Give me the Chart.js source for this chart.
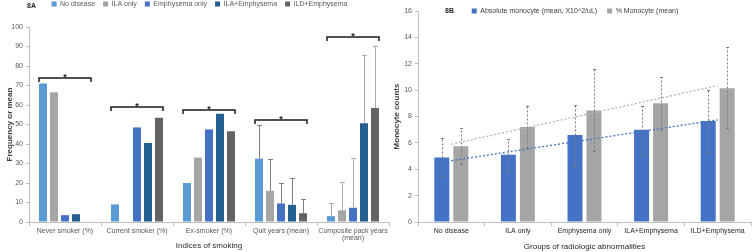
<!DOCTYPE html>
<html>
<head>
<meta charset="utf-8">
<script src="https://cdn.jsdelivr.net/npm/chart.js@4"></script>
<style>
  html, body { margin: 0; padding: 0; background: #fff; }
  body { width: 752px; height: 252px; position: relative; overflow: hidden; }
  canvas { position: absolute; top: 0; }
  #chartA { left: 0; }
  #chartB { left: 392px; }
  .tag { position: absolute; font: bold 7px "Liberation Sans", sans-serif; color: #262626; }
</style>
</head>
<body>
<canvas id="chartA" width="392" height="252"></canvas>
<canvas id="chartB" width="360" height="252"></canvas>
<div class="tag" style="left:27px; top:2px">8A</div>
<div class="tag" style="left:445px; top:7px">8B</div>
<script>
// ---- 8A data ----
const groupsA = ['Never smoker (%)', 'Current smoker (%)', 'Ex-smoker (%)', 'Quit years (mean)', ['Composite pack years', '(mean)']];
const seriesA = ['No disease', 'ILA only', 'Emphysema only', 'ILA+Emphysema', 'ILD+Emphysema'];
const noDisease = [71, 9, 20, 32.5, 3];
const ilaOnly = [66.5, 0, 33, 16, 6];
const emphOnly = [3.5, 48.5, 47.5, 9.5, 7.3];
const ilaEmph = [4, 40.5, 55.5, 8.8, 50.7];
const ildEmph = [0, 53.5, 46.5, 4.5, 58.4];
// upper end of the error bars (means only)
const noDiseaseHi = [null, null, null, 49.7, 9.6];
const ilaOnlyHi = [null, null, null, 32.3, 20.7];
const emphOnlyHi = [null, null, null, 20.2, 32.7];
const ilaEmphHi = [null, null, null, 22.6, 85.5];
const ildEmphHi = [null, null, null, 12, 90.3];
// significance bracket levels
const bracketsA = [74, 59, 57.6, 52.4, 95];

// ---- 8B data ----
const groupsB = ['No disease', 'ILA only', 'Emphysema only', 'ILA+Emphysema', 'ILD+Emphysema'];
const absMono = [4.9, 5.1, 6.6, 7.0, 7.65];
const absMonoLo = [3.4, 3.9, 4.2, 5.1, 5.3];
const absMonoHi = [6.4, 6.3, 8.9, 8.8, 10.0];
const pctMono = [5.75, 7.2, 8.45, 9.0, 10.15];
const pctMonoLo = [4.4, 5.6, 5.4, 7.0, 7.1];
const pctMonoHi = [7.1, 8.8, 11.6, 11.0, 13.3];
const absTrend = [4.65, null, null, null, 7.75];
const pctTrend = [5.9, null, null, null, 10.35];

const FONT = '"Liberation Sans", Arial, sans-serif';
const colorsA = ['#5B9BD5', '#A5A5A5', '#4472C4', '#255E91', '#636363'];
const errColorsA = [null, null, null, '#7f7f7f', '#ababab'];

// legend that takes no layout room, placed by hand
const pinLegend = {
  id: 'pinLegend',
  beforeInit(chart) {
    const lg = chart.legend;
    const fit = lg.fit;
    lg.fit = function () { fit.call(this); this.height = 0; };
  },
  afterLayout(chart, args, opts) {
    const lg = chart.legend;
    const pad = lg.options.labels.padding;
    const size = lg.options.labels.font.size;
    lg.top = opts.y - pad - size / 2;
    lg.bottom = lg.top + pad * 2 + size + 10;
    lg.height = lg.bottom - lg.top;
    lg.left = opts.left;
    lg.right = opts.right;
  }
};

const errUpA = {
  id: 'errUpA',
  afterDatasetsDraw(chart) {
    const { ctx, scales: { y } } = chart;
    ctx.save();
    ctx.lineWidth = 1;
    chart.data.datasets.forEach((ds, i) => {
      const bars = chart.getDatasetMeta(i).data;
      ds.upper.forEach((v, j) => {
        if (v == null) return;
        const b = bars[j];
        const x = Math.round(b.x) + 0.5;
        const top = Math.round(y.getPixelForValue(v)) + 0.5;
        ctx.strokeStyle = errColorsA[j];
        ctx.beginPath();
        ctx.moveTo(x, b.y);
        ctx.lineTo(x, top);
        ctx.moveTo(x - 2.5, top);
        ctx.lineTo(x + 2.5, top);
        ctx.stroke();
      });
    });
    ctx.restore();
  }
};

const sigBrackets = {
  id: 'sigBrackets',
  afterDatasetsDraw(chart) {
    const { ctx, scales: { y } } = chart;
    const first = chart.getDatasetMeta(0).data;
    const last = chart.getDatasetMeta(4).data;
    ctx.save();
    ctx.strokeStyle = '#1a1a1a';
    ctx.fillStyle = '#1a1a1a';
    ctx.lineWidth = 1.5;
    ctx.font = 'bold 9px ' + FONT;
    ctx.textAlign = 'center';
    ctx.textBaseline = 'alphabetic';
    bracketsA.forEach((v, i) => {
      const x0 = first[i].x - first[i].width / 2;
      const x1 = last[i].x + last[i].width / 2;
      const yy = Math.round(y.getPixelForValue(v));
      ctx.beginPath();
      ctx.moveTo(x0, yy + 4);
      ctx.lineTo(x0, yy);
      ctx.lineTo(x1, yy);
      ctx.lineTo(x1, yy + 4);
      ctx.stroke();
      ctx.fillText('*', (x0 + x1) / 2, yy + 1.5);
    });
    ctx.restore();
  }
};

const errRangeB = {
  id: 'errRangeB',
  afterDatasetsDraw(chart) {
    const { ctx, scales: { y } } = chart;
    ctx.save();
    ctx.strokeStyle = '#7a7a7a';
    ctx.lineWidth = 1;
    chart.data.datasets.forEach((ds, i) => {
      if (!ds.lo) return;
      const bars = chart.getDatasetMeta(i).data;
      ds.lo.forEach((lo, j) => {
        const x = Math.round(bars[j].x) + 0.5;
        const yLo = Math.round(y.getPixelForValue(lo)) + 0.5;
        const yHi = Math.round(y.getPixelForValue(ds.hi[j])) + 0.5;
        ctx.setLineDash([2, 2]);
        ctx.beginPath();
        ctx.moveTo(x, yLo);
        ctx.lineTo(x, yHi);
        ctx.stroke();
        ctx.setLineDash([]);
        ctx.beginPath();
        ctx.moveTo(x - 1.5, yLo); ctx.lineTo(x + 1.5, yLo);
        ctx.moveTo(x - 1.5, yHi); ctx.lineTo(x + 1.5, yHi);
        ctx.stroke();
      });
    });
    ctx.restore();
  }
};

const upperA = [noDiseaseHi, ilaOnlyHi, emphOnlyHi, ilaEmphHi, ildEmphHi];
const valuesA = [noDisease, ilaOnly, emphOnly, ilaEmph, ildEmph];

new Chart(document.getElementById('chartA'), {
  type: 'bar',
  data: {
    labels: groupsA,
    datasets: seriesA.map((name, i) => ({
      label: name,
      data: valuesA[i],
      upper: upperA[i],
      backgroundColor: colorsA[i],
      borderWidth: 0,
      categoryPercentage: 0.764,
      barPercentage: 0.727
    }))
  },
  options: {
    responsive: false,
    animation: false,
    layout: { padding: { top: 27, left: 0, right: 3, bottom: 0 } },
    plugins: {
      legend: {
        position: 'top',
        labels: { boxWidth: 5, boxHeight: 5, padding: 8, color: '#595959', font: { family: FONT, size: 7 } }
      },
      pinLegend: { y: 4, left: 0, right: 399 },
      tooltip: { enabled: false }
    },
    scales: {
      x: {
        afterFit(scale) { scale.height = 30; },
        grid: { drawOnChartArea: false, tickLength: 4, color: '#bfbfbf' },
        border: { color: '#bfbfbf' },
        ticks: { color: '#595959', padding: 1, font: { family: FONT, size: 7, lineHeight: 1.1 }, maxRotation: 0, autoSkip: false },
        title: { display: true, text: 'Indices of smoking', color: '#262626', font: { family: FONT, size: 8 }, padding: { top: 0, bottom: 1 } }
      },
      y: {
        min: 0, max: 100,
        afterFit(scale) { scale.width = 29; },
        grid: { drawOnChartArea: false, tickLength: 3, color: '#bfbfbf' },
        border: { color: '#bfbfbf' },
        ticks: { stepSize: 10, color: '#595959', padding: 3, font: { family: FONT, size: 7 } },
        title: { display: true, text: 'Frequency or mean', color: '#404040', font: { family: FONT, size: 8, weight: 'bold' }, padding: { top: 5, bottom: 0 } }
      }
    }
  },
  plugins: [pinLegend, errUpA, sigBrackets]
});

new Chart(document.getElementById('chartB'), {
  type: 'bar',
  data: {
    labels: groupsB,
    datasets: [
      { label: 'Absolute monocyte (mean, X10^2/uL)', data: absMono, lo: absMonoLo, hi: absMonoHi,
        backgroundColor: '#4472C4', borderWidth: 0, categoryPercentage: 0.57, barPercentage: 0.79 },
      { label: '% Monocyte (mean)', data: pctMono, lo: pctMonoLo, hi: pctMonoHi,
        backgroundColor: '#A5A5A5', borderWidth: 0, categoryPercentage: 0.57, barPercentage: 0.79 },
      { type: 'line', label: 'absTrend', data: absTrend, spanGaps: true, order: -1,
        borderColor: '#4472C4', borderWidth: 1.3, borderDash: [2, 2], pointRadius: 0, fill: false },
      { type: 'line', label: 'pctTrend', data: pctTrend, spanGaps: true, order: -1,
        borderColor: '#b3b3b3', borderWidth: 1.3, borderDash: [2, 2], pointRadius: 0, fill: false }
    ]
  },
  options: {
    responsive: false,
    animation: false,
    layout: { padding: { top: 11, left: 0, right: 1, bottom: 0 } },
    plugins: {
      legend: {
        position: 'top',
        labels: {
          boxWidth: 5, boxHeight: 5, padding: 10, color: '#404040', font: { family: FONT, size: 7 },
          filter: item => item.datasetIndex < 2,
          sort: (a, b) => a.datasetIndex - b.datasetIndex
        }
      },
      pinLegend: { y: 11, left: 0, right: 366 },
      tooltip: { enabled: false }
    },
    scales: {
      x: {
        afterFit(scale) { scale.height = 30; },
        grid: { drawOnChartArea: false, tickLength: 4, color: '#bfbfbf' },
        border: { color: '#bfbfbf' },
        ticks: { color: '#262626', padding: 1, font: { family: FONT, size: 7 }, maxRotation: 0, autoSkip: false },
        title: { display: true, text: 'Groups of radiologic abnormalities', color: '#262626', font: { family: FONT, size: 8 }, padding: { top: 0, bottom: 0 } }
      },
      y: {
        min: 0, max: 16,
        afterFit(scale) { scale.width = 26; },
        grid: { drawOnChartArea: false, tickLength: 3, color: '#bfbfbf' },
        border: { color: '#bfbfbf' },
        ticks: { stepSize: 2, color: '#595959', padding: 3, font: { family: FONT, size: 7 } },
        title: { display: true, text: 'Monocyte counts', color: '#404040', font: { family: FONT, size: 8, weight: 'bold' }, padding: { top: 0, bottom: 0 } }
      }
    }
  },
  plugins: [pinLegend, errRangeB]
});
</script>
</body>
</html>
